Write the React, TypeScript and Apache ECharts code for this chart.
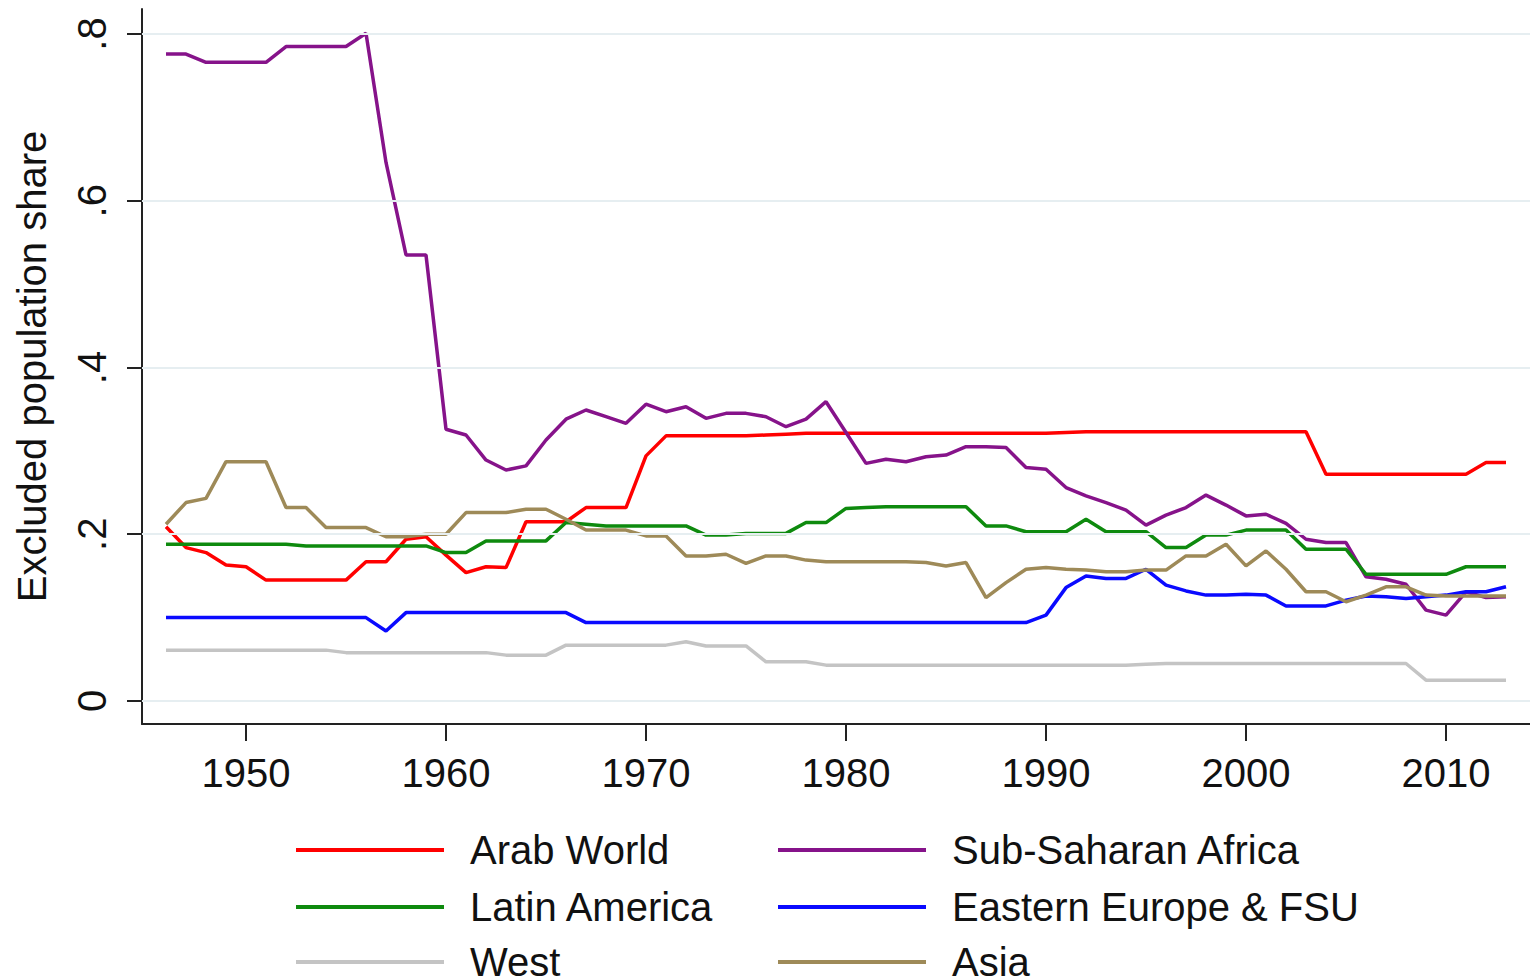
import React, { useEffect, useRef } from "react";
import * as echarts from "echarts";

const years = [
  1946, 1947, 1948, 1949, 1950, 1951, 1952, 1953, 1954, 1955,
  1956, 1957, 1958, 1959, 1960, 1961, 1962, 1963, 1964, 1965,
  1966, 1967, 1968, 1969, 1970, 1971, 1972, 1973, 1974, 1975,
  1976, 1977, 1978, 1979, 1980, 1981, 1982, 1983, 1984, 1985,
  1986, 1987, 1988, 1989, 1990, 1991, 1992, 1993, 1994, 1995,
  1996, 1997, 1998, 1999, 2000, 2001, 2002, 2003, 2004, 2005,
  2006, 2007, 2008, 2009, 2010, 2011, 2012, 2013,
];

const arabWorld = [
  0.209, 0.184, 0.178, 0.163, 0.161, 0.145, 0.145, 0.145, 0.145, 0.145,
  0.167, 0.167, 0.194, 0.197, 0.175, 0.154, 0.161, 0.160, 0.215, 0.215,
  0.215, 0.232, 0.232, 0.232, 0.294, 0.318, 0.318, 0.318, 0.318, 0.318,
  0.319, 0.320, 0.321, 0.321, 0.321, 0.321, 0.321, 0.321, 0.321, 0.321,
  0.321, 0.321, 0.321, 0.321, 0.321, 0.322, 0.323, 0.323, 0.323, 0.323,
  0.323, 0.323, 0.323, 0.323, 0.323, 0.323, 0.323, 0.323, 0.272, 0.272,
  0.272, 0.272, 0.272, 0.272, 0.272, 0.272, 0.286, 0.286,
];

const subSaharanAfrica = [
  0.776, 0.776, 0.766, 0.766, 0.766, 0.766, 0.785, 0.785, 0.785, 0.785,
  0.801, 0.646, 0.535, 0.535, 0.326, 0.319, 0.289, 0.277, 0.282, 0.313,
  0.338, 0.349, 0.341, 0.333, 0.356, 0.347, 0.353, 0.339, 0.345, 0.345,
  0.341, 0.329, 0.338, 0.359, 0.322, 0.285, 0.290, 0.287, 0.293, 0.295,
  0.305, 0.305, 0.304, 0.280, 0.278, 0.256, 0.246, 0.238, 0.229, 0.211,
  0.223, 0.232, 0.247, 0.235, 0.222, 0.224, 0.213, 0.194, 0.190, 0.190,
  0.149, 0.146, 0.140, 0.109, 0.103, 0.131, 0.124, 0.125,
];

const latinAmerica = [
  0.188, 0.188, 0.188, 0.188, 0.188, 0.188, 0.188, 0.186, 0.186, 0.186,
  0.186, 0.186, 0.186, 0.186, 0.178, 0.178, 0.192, 0.192, 0.192, 0.192,
  0.214, 0.212, 0.210, 0.210, 0.210, 0.210, 0.210, 0.199, 0.199, 0.201,
  0.201, 0.201, 0.214, 0.214, 0.231, 0.232, 0.233, 0.233, 0.233, 0.233,
  0.233, 0.210, 0.210, 0.203, 0.203, 0.203, 0.218, 0.203, 0.203, 0.203,
  0.184, 0.184, 0.199, 0.199, 0.205, 0.205, 0.205, 0.182, 0.182, 0.182,
  0.152, 0.152, 0.152, 0.152, 0.152, 0.161, 0.161, 0.161,
];

const easternEurope = [
  0.100, 0.100, 0.100, 0.100, 0.100, 0.100, 0.100, 0.100, 0.100, 0.100,
  0.100, 0.084, 0.106, 0.106, 0.106, 0.106, 0.106, 0.106, 0.106, 0.106,
  0.106, 0.094, 0.094, 0.094, 0.094, 0.094, 0.094, 0.094, 0.094, 0.094,
  0.094, 0.094, 0.094, 0.094, 0.094, 0.094, 0.094, 0.094, 0.094, 0.094,
  0.094, 0.094, 0.094, 0.094, 0.103, 0.136, 0.150, 0.147, 0.147, 0.158,
  0.139, 0.132, 0.127, 0.127, 0.128, 0.127, 0.114, 0.114, 0.114, 0.121,
  0.126, 0.125, 0.123, 0.125, 0.127, 0.131, 0.131, 0.137,
];

const west = [
  0.061, 0.061, 0.061, 0.061, 0.061, 0.061, 0.061, 0.061, 0.061, 0.058,
  0.058, 0.058, 0.058, 0.058, 0.058, 0.058, 0.058, 0.055, 0.055, 0.055,
  0.067, 0.067, 0.067, 0.067, 0.067, 0.067, 0.071, 0.066, 0.066, 0.066,
  0.047, 0.047, 0.047, 0.043, 0.043, 0.043, 0.043, 0.043, 0.043, 0.043,
  0.043, 0.043, 0.043, 0.043, 0.043, 0.043, 0.043, 0.043, 0.043, 0.044,
  0.045, 0.045, 0.045, 0.045, 0.045, 0.045, 0.045, 0.045, 0.045, 0.045,
  0.045, 0.045, 0.045, 0.025, 0.025, 0.025, 0.025, 0.025,
];

const asia = [
  0.212, 0.238, 0.243, 0.287, 0.287, 0.287, 0.232, 0.232, 0.208, 0.208,
  0.208, 0.197, 0.197, 0.200, 0.200, 0.226, 0.226, 0.226, 0.230, 0.230,
  0.218, 0.205, 0.205, 0.205, 0.198, 0.198, 0.174, 0.174, 0.176, 0.165,
  0.174, 0.174, 0.169, 0.167, 0.167, 0.167, 0.167, 0.167, 0.166, 0.162,
  0.166, 0.124, 0.142, 0.158, 0.160, 0.158, 0.157, 0.155, 0.155, 0.157,
  0.157, 0.174, 0.174, 0.188, 0.162, 0.180, 0.158, 0.131, 0.131, 0.119,
  0.127, 0.137, 0.137, 0.127, 0.126, 0.126, 0.126, 0.126,
];

const xTicks = [1950, 1960, 1970, 1980, 1990, 2000, 2010];
const yTicks = [0, 0.2, 0.4, 0.6, 0.8];

const seriesDefs = [
  { name: "Arab World", values: arabWorld, color: "#ff0000" },
  { name: "Sub-Saharan Africa", values: subSaharanAfrica, color: "#86138a" },
  { name: "Latin America", values: latinAmerica, color: "#0e8a0e" },
  { name: "Eastern Europe & FSU", values: easternEurope, color: "#0a0aff" },
  { name: "West", values: west, color: "#c4c4c4" },
  { name: "Asia", values: asia, color: "#9e8a58" },
];

// legend placement: [name, left, top]
const legendSlots: [string, number, number][] = [
  ["Arab World", 296, 830],
  ["Sub-Saharan Africa", 778, 830],
  ["Latin America", 296, 887],
  ["Eastern Europe & FSU", 778, 887],
  ["West", 296, 942],
  ["Asia", 778, 942],
];

const FONT = "'Liberation Sans', Arial, sans-serif";

export default function App() {
  const ref = useRef<HTMLDivElement>(null);

  useEffect(() => {
    if (!ref.current) return;
    const chart = echarts.init(ref.current, null, { renderer: "svg" });

    const lineSeries = seriesDefs.map((s) => ({
      name: s.name,
      type: "line",
      data: years.map((y, i) => [y, s.values[i]]),
      symbol: "none",
      z: 3,
      lineStyle: { color: s.color, width: 3.5 },
      itemStyle: { color: s.color },
    }));

    const gridSeries = {
      name: "__grid",
      type: "line",
      data: [],
      z: 1,
      silent: true,
      markLine: {
        silent: true,
        symbol: ["none", "none"],
        label: { show: false },
        lineStyle: { color: "#e6eef1", width: 2, type: "solid" },
        data: yTicks.map((v) => ({ yAxis: v })),
      },
    };

    const legends = legendSlots.map(([name, left, top]) => ({
      orient: "horizontal",
      left,
      top,
      padding: 0,
      itemWidth: 148,
      itemHeight: 4,
      icon: "rect",
      selectedMode: false,
      data: [name],
      textStyle: {
        fontFamily: FONT,
        fontSize: 40,
        color: "#111",
        padding: [0, 0, 0, 21],
        lineHeight: 40,
      },
    }));

    chart.setOption({
      animation: false,
      backgroundColor: "#ffffff",
      grid: { left: 142, top: 9, right: 0, bottom: 253 },
      legend: legends,
      xAxis: {
        type: "value",
        min: 1944.8,
        max: 2014.2,
        axisLine: { onZero: false, lineStyle: { color: "#222", width: 2 } },
        axisTick: { customValues: xTicks, length: 17, lineStyle: { color: "#222", width: 2 } },
        axisLabel: {
          customValues: xTicks,
          margin: 29,
          fontFamily: FONT,
          fontSize: 40,
          color: "#111",
          formatter: (v: number) => String(v),
        },
        splitLine: { show: false },
      },
      yAxis: {
        type: "value",
        min: -0.0276,
        max: 0.83,
        name: "Excluded population share",
        nameLocation: "middle",
        nameGap: 90,
        nameTextStyle: { fontFamily: FONT, fontSize: 40, color: "#111" },
        axisLine: { show: true, onZero: false, lineStyle: { color: "#222", width: 2 } },
        axisTick: { show: true, customValues: yTicks, length: 15, lineStyle: { color: "#222", width: 2 } },
        axisLabel: {
          customValues: yTicks,
          rotate: 90,
          margin: 30,
          fontFamily: FONT,
          fontSize: 40,
          color: "#111",
          formatter: (v: number) => (v === 0 ? "0" : String(Math.round(v * 10) / 10).replace(/^0/, "")),
        },
        splitLine: { show: false },
      },
      series: [gridSeries, ...lineSeries],
    });

    return () => chart.dispose();
  }, []);

  return (
    <div
      ref={ref}
      style={{ position: "fixed", left: 0, top: 0, width: 1530, height: 977, background: "#fff" }}
    />
  );
}
